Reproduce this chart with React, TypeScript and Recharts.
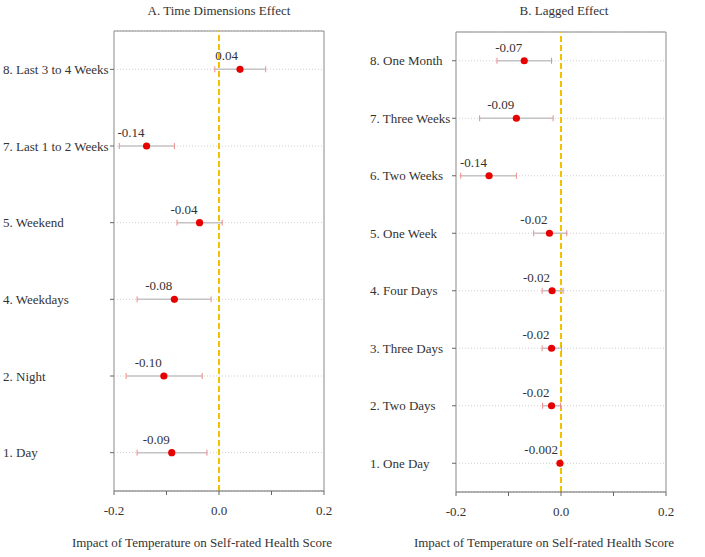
import React from 'react';
import {
  ScatterChart,
  Scatter,
  XAxis,
  YAxis,
  CartesianGrid,
  ReferenceLine,
  ErrorBar,
} from 'recharts';

// ---------- Panel A: Time Dimensions Effect ----------
const panelACategories = [
  '8. Last 3 to 4 Weeks',
  '7. Last 1 to 2 Weeks',
  '5. Weekend',
  '4. Weekdays',
  '2. Night',
  '1. Day',
];
const panelAEstimates = [0.04, -0.138, -0.037, -0.085, -0.105, -0.09];
const panelALower = [-0.008, -0.19, -0.08, -0.156, -0.177, -0.156];
const panelAUpper = [0.089, -0.085, 0.006, -0.015, -0.032, -0.023];
const panelALabels = ['0.04', '-0.14', '-0.04', '-0.08', '-0.10', '-0.09'];

// ---------- Panel B: Lagged Effect ----------
const panelBCategories = [
  '8. One Month',
  '7. Three Weeks',
  '6. Two Weeks',
  '5. One Week',
  '4. Four Days',
  '3. Three Days',
  '2. Two Days',
  '1. One Day',
];
const panelBEstimates = [-0.07, -0.085, -0.137, -0.022, -0.017, -0.018, -0.018, -0.002];
const panelBLower = [-0.122, -0.155, -0.191, -0.052, -0.036, -0.036, -0.035, -0.004];
const panelBUpper = [-0.018, -0.015, -0.085, 0.011, 0.004, 0.001, -0.001, 0.0];
const panelBLabels = ['-0.07', '-0.09', '-0.14', '-0.02', '-0.02', '-0.02', '-0.02', '-0.002'];

// ---------- Axis ----------
const xTicks = [-0.2, -0.1, 0, 0.1, 0.2];
const xTickLabels: Record<string, string> = { '-0.2': '-0.2', '0': '0.0', '0.2': '0.2' };
const xDomain: [number, number] = [-0.2, 0.2];
const xAxisTitle = 'Impact of Temperature on Self-rated Health Score';
const panelATitle = 'A. Time Dimensions Effect';
const panelBTitle = 'B. Lagged Effect';

const FONT = "'Liberation Serif', 'Times New Roman', serif";
const TEXT = '#333';

type Row = { x: number; y: number; label: string; err: [number, number] };

function buildRows(est: number[], lo: number[], hi: number[], labels: string[]): Row[] {
  const n = est.length;
  return est.map((e, i) => ({
    x: e,
    y: n - i,
    label: labels[i],
    err: [e - lo[i], hi[i] - e],
  }));
}

function buildCaps(lo: number[], hi: number[]) {
  const n = lo.length;
  const out: { x: number; y: number }[] = [];
  lo.forEach((l, i) => {
    out.push({ x: l, y: n - i });
    out.push({ x: hi[i], y: n - i });
  });
  return out;
}

const CapShape = (props: any) => {
  const { cx, cy } = props;
  if (cx == null || cy == null) return null;
  return <line x1={cx} x2={cx} y1={cy - 3} y2={cy + 3} stroke="#f08a8a" strokeWidth={1} />;
};

const PointShape = (props: any) => {
  const { cx, cy, payload } = props;
  if (cx == null || cy == null) return null;
  return (
    <g>
      <circle cx={cx} cy={cy} r={3.6} fill="#e60000" />
      <text
        x={cx - 2}
        y={cy - 9}
        textAnchor="end"
        fontSize={13}
        fill={TEXT}
        fontFamily={FONT}
      >
        {payload.label}
      </text>
    </g>
  );
};

type PanelProps = {
  categories: string[];
  est: number[];
  lo: number[];
  hi: number[];
  labels: string[];
  width: number;
  height: number;
  yAxisWidth: number;
  labelX: number;
  margin: { top: number; right: number; bottom: number; left: number };
};

function Panel({ categories, est, lo, hi, labels, width, height, yAxisWidth, labelX, margin }: PanelProps) {
  const n = categories.length;
  const rows = buildRows(est, lo, hi, labels);
  const caps = buildCaps(lo, hi);
  const yTicks = categories.map((_, i) => n - i);

  const YTick = (props: any) => {
    const { y, payload } = props;
    const idx = n - payload.value;
    return (
      <text x={labelX} y={y} dy="0.35em" textAnchor="start" fontSize={13} fill={TEXT} fontFamily={FONT}>
        {categories[idx]}
      </text>
    );
  };

  return (
    <ScatterChart width={width} height={height} margin={margin}>
      <CartesianGrid
        vertical={false}
        horizontal={true}
        stroke="#d0d0d0"
        strokeDasharray="1 2"
      />
      <XAxis
        type="number"
        dataKey="x"
        domain={xDomain}
        allowDataOverflow
        ticks={xTicks}
        interval={0}
        tickFormatter={(v: number) => xTickLabels[String(v)] ?? ''}
        tick={{ fill: TEXT, fontSize: 13, fontFamily: FONT }}
        tickSize={4}
        tickMargin={11}
        axisLine={{ stroke: '#666', strokeWidth: 1 }}
        tickLine={{ stroke: '#666' }}
        height={40}
      />
      <YAxis
        type="number"
        dataKey="y"
        domain={[0.5, n + 0.5]}
        allowDataOverflow
        ticks={yTicks}
        interval={0}
        width={yAxisWidth}
        tick={<YTick />}
        tickSize={4}
        axisLine={false}
        tickLine={{ stroke: '#666' }}
      />
      <ReferenceLine x={-0.2} stroke="#c4c4c4" strokeWidth={2} />
      <ReferenceLine x={0.2} stroke="#c4c4c4" strokeWidth={2} />
      <ReferenceLine y={n + 0.5} stroke="#888" strokeWidth={1} />
      <ReferenceLine x={0} stroke="#f2c200" strokeWidth={2} strokeDasharray="6 3" />
      <Scatter data={rows} shape={() => null} isAnimationActive={false}>
        <ErrorBar dataKey="err" direction="x" width={0} stroke="#c4c4c4" strokeWidth={1.5} isAnimationActive={false} />
      </Scatter>
      <Scatter data={caps} shape={<CapShape />} isAnimationActive={false} />
      <Scatter data={rows} shape={<PointShape />} isAnimationActive={false} />
    </ScatterChart>
  );
}

export default function App() {
  return (
    <div
      style={{
        position: 'absolute',
        left: 0,
        top: 0,
        width: 705,
        height: 557,
        background: '#fff',
        fontFamily: FONT,
        color: TEXT,
        overflow: 'hidden',
      }}
    >
      <div style={{ position: 'absolute', left: 0, top: 0 }}>
        <Panel
          categories={panelACategories}
          est={panelAEstimates}
          lo={panelALower}
          hi={panelAUpper}
          labels={panelALabels}
          width={345}
          height={557}
          yAxisWidth={114}
          labelX={3}
          margin={{ top: 31, right: 21, bottom: 26, left: 0 }}
        />
      </div>
      <div style={{ position: 'absolute', left: 345, top: 0 }}>
        <Panel
          categories={panelBCategories}
          est={panelBEstimates}
          lo={panelBLower}
          hi={panelBUpper}
          labels={panelBLabels}
          width={360}
          height={557}
          yAxisWidth={111}
          labelX={25}
          margin={{ top: 32, right: 39, bottom: 25, left: 0 }}
        />
      </div>
      <div style={{ position: 'absolute', left: 119, width: 200, top: 3, textAlign: 'center', fontSize: 13 }}>
        {panelATitle}
      </div>
      <div style={{ position: 'absolute', left: 464, width: 200, top: 3, textAlign: 'center', fontSize: 13 }}>
        {panelBTitle}
      </div>
      <div style={{ position: 'absolute', left: 2, width: 400, top: 535, textAlign: 'center', fontSize: 13 }}>
        {xAxisTitle}
      </div>
      <div style={{ position: 'absolute', left: 344, width: 400, top: 535, textAlign: 'center', fontSize: 13 }}>
        {xAxisTitle}
      </div>
    </div>
  );
}
